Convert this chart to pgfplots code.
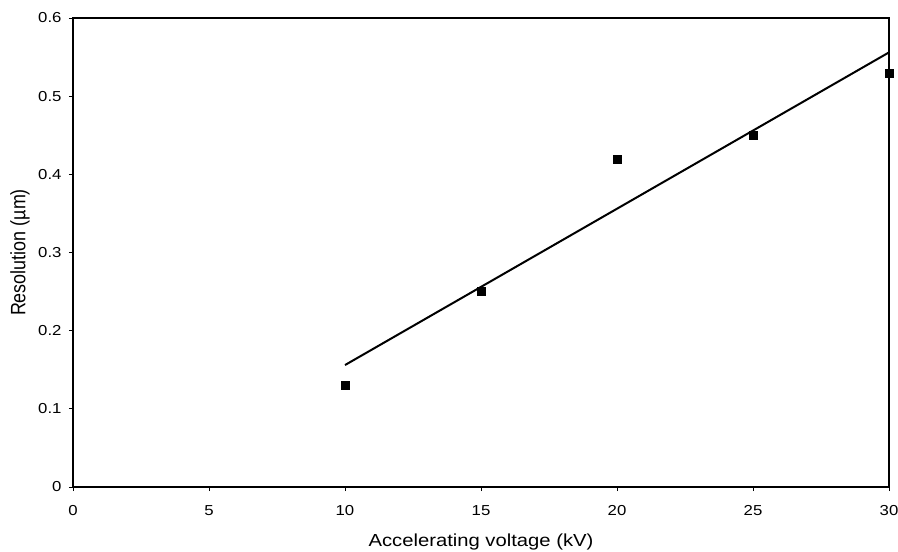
\documentclass[border=0pt]{standalone}
\usepackage{graphicx}
\usepackage{pgfplots}
\pgfplotsset{compat=1.18}
\usepackage{fontspec}
\setmainfont{Liberation Sans}[FakeStretch=1.16]
\newfontfamily\yfont{Liberation Sans}
\usetikzlibrary{calc}
\begin{document}
\begin{tikzpicture}
\begin{axis}[
  scale only axis, width=816bp, height=469bp,
  xmin=0, xmax=30, ymin=0, ymax=0.6,
  xtick={0,5,10,15,20,25,30},
  ytick={0,0.1,0.2,0.3,0.4,0.5,0.6},
  xtick pos=bottom, ytick pos=left,
  yticklabel style={/pgf/number format/fixed, /pgf/number format/precision=1, xshift=-4bp},
  xticklabel style={yshift=-11bp},
  /pgf/number format/assume math mode=true,
  tick align=outside, major tick length=4bp,
  tick style={line width=0.7bp, black},
  axis line style={line width=2bp},
  ticklabel style={font=\fontsize{14.5}{16}\selectfont},
  xlabel={Accelerating voltage (kV)},
  ylabel={\scalebox{1}[1.16]{\yfont\fontsize{18}{20}\selectfont Resolution (µm)}},
  xlabel style={font=\fontsize{17.5}{20}\selectfont, at={(axis description cs:0.5,-0.117)}, anchor=center},
  ylabel style={at={(axis description cs:-0.065,0.5)}, anchor=center},
  clip=false,
]
\addplot[only marks, mark=square*, mark size=4bp, black] coordinates {
  (10,0.13) (15,0.25) (20,0.42) (25,0.45) (30,0.53)
};
\addplot[no marks, black, line width=2bp] coordinates {
  (10,0.156) (30,0.556)
};
\end{axis}
\pgfresetboundingbox
\path[use as bounding box] ($(current axis.south west)+(-73bp,-65bp)$) rectangle ($(current axis.north east)+(9bp,18bp)$);
\end{tikzpicture}
\end{document}
